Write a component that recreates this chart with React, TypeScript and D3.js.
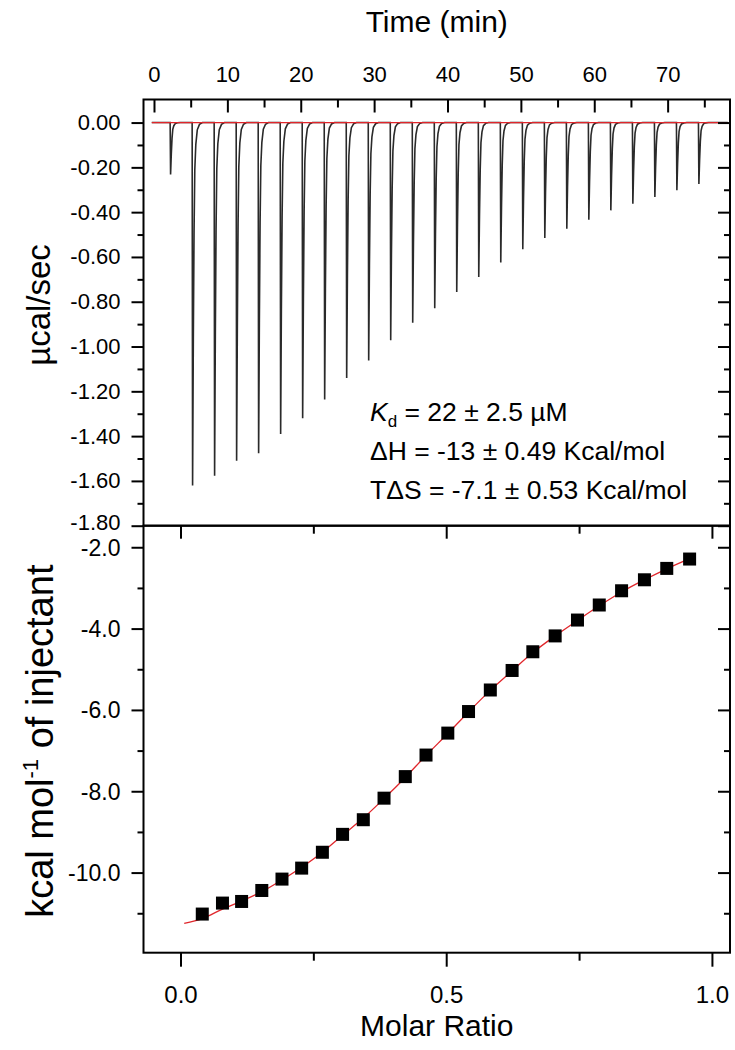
import React, { useEffect, useRef } from 'react';
import * as d3 from 'd3';

// raw thermogram: injection times (min) and peak minima (µcal/sec)
const injTimes = [2.2, 5.2, 8.2, 11.2, 14.2, 17.2, 20.2, 23.2, 26.2, 29.2, 32.2, 35.2, 38.2,
  41.2, 44.2, 47.2, 50.2, 53.2, 56.2, 59.2, 62.2, 65.2, 68.2, 71.2, 74.2];
const peakDepths = [-0.232, -1.62, -1.577, -1.51, -1.477, -1.39, -1.32, -1.236, -1.14, -1.062,
  -0.972, -0.894, -0.829, -0.757, -0.69, -0.625, -0.566, -0.515, -0.474, -0.434, -0.392,
  -0.362, -0.332, -0.302, -0.274];
// shape of one injection peak: [minutes after injection, fraction of depth]
const peakShape = [[0, 0], [0.06, 1], [0.16, 0.6], [0.26, 0.3], [0.36, 0.13], [0.5, 0.06],
  [0.7, 0.02], [1.0, 0.005], [1.4, 0]];

// integrated heats
const molarRatio = [0.041, 0.079, 0.115, 0.153, 0.191, 0.228, 0.267, 0.305, 0.344, 0.383, 0.423,
  0.462, 0.503, 0.542, 0.583, 0.624, 0.663, 0.705, 0.747, 0.788, 0.830, 0.873, 0.915, 0.958];
const heats = [-11.02, -10.75, -10.71, -10.44, -10.16, -9.89, -9.50, -9.06, -8.70, -8.17, -7.64,
  -7.11, -6.57, -6.04, -5.51, -5.03, -4.57, -4.18, -3.79, -3.42, -3.07, -2.80, -2.52, -2.29];

// fitted curve
const fitX = [0.007, 0.041, 0.079, 0.115, 0.153, 0.191, 0.228, 0.267, 0.305, 0.344, 0.383, 0.423,
  0.462, 0.503, 0.542, 0.583, 0.624, 0.663, 0.705, 0.747, 0.788, 0.830, 0.873, 0.915, 0.958];
const fitY = [-11.25, -11.13, -10.90, -10.70, -10.47, -10.18, -9.87, -9.50, -9.08, -8.66, -8.18,
  -7.66, -7.12, -6.58, -6.05, -5.52, -5.04, -4.59, -4.18, -3.80, -3.44, -3.10, -2.80, -2.53, -2.28];

const timeMajor = [0, 10, 20, 30, 40, 50, 60, 70];
const timeMinor = [5, 15, 25, 35, 45, 55, 65, 75];
const powerMajor = [0, -0.2, -0.4, -0.6, -0.8, -1.0, -1.2, -1.4, -1.6, -1.8];
const powerMinor = [-0.1, -0.3, -0.5, -0.7, -0.9, -1.1, -1.3, -1.5, -1.7];
const heatMajor = [-2, -4, -6, -8, -10];
const heatMinor = [-3, -5, -7, -9, -11];
const ratioMajor = [0, 0.5, 1.0];
const ratioMinor = [0.25, 0.75];

const W = 735;
const H = 1050;
const FONT = '"Liberation Sans", Arial, sans-serif';

const App: React.FC = () => {
  const svgRef = useRef<SVGSVGElement | null>(null);

  useEffect(() => {
    if (!svgRef.current) return;
    const svg = d3.select(svgRef.current);
    svg.selectAll('*').remove();

    const L = 143.5, R = 730, T1 = 99.5, B1 = 525.7, B2 = 952.7;

    const xTime = d3.scaleLinear().domain([-1.43, 78.5]).range([L, R]);
    const yPow = d3.scaleLinear().domain([-1.8, 0.103]).range([B1, T1]);
    const xRatio = d3.scaleLinear().domain([-0.0696, 1.034]).range([L, R]);
    const yHeat = d3.scaleLinear().domain([-11.97, -1.47]).range([B2, B1]);

    const fmt = (p: string) => (d: any) => d3.format(p)(d).replace('\u2212', '-');

    const styleAxis = (g: any, size: number) => {
      g.select('.domain').remove();
      g.selectAll('line').attr('stroke', '#000').attr('stroke-width', 2);
      g.selectAll('text').attr('fill', '#000').style('font-family', FONT).style('font-size', size + 'px');
    };

    const addAxis = (axis: any, tx: number, ty: number, size = 22) => {
      const g = svg.append('g').attr('transform', `translate(${tx},${ty})`).call(axis);
      styleAxis(g, size);
      return g;
    };

    // ---- top panel: thermogram ----
    svg.append('clipPath').attr('id', 'clipTop')
      .append('rect').attr('x', L).attr('y', T1).attr('width', R - L).attr('height', B1 - T1);

    const trace: [number, number][] = [[-0.3, 0]];
    injTimes.forEach((t0, i) => {
      trace.push([t0 - 0.02, 0]);
      peakShape.forEach(([dt, f]) => trace.push([t0 + dt, peakDepths[i] * f]));
    });
    trace.push([78.2, 0]);

    svg.append('path')
      .attr('clip-path', 'url(#clipTop)')
      .attr('d', d3.line<[number, number]>().x(d => xTime(d[0])).y(d => yPow(d[1]))(trace))
      .attr('fill', 'none').attr('stroke', '#2a2a2a').attr('stroke-width', 1.6);

    svg.append('line')
      .attr('x1', xTime(-0.3)).attr('x2', xTime(78.2))
      .attr('y1', yPow(0)).attr('y2', yPow(0))
      .attr('stroke', '#e0262b').attr('stroke-width', 1.3);

    addAxis(d3.axisTop(xTime).tickValues(timeMajor).tickSize(-13).tickPadding(18).tickFormat(d => String(d)), 0, T1, 22);
    addAxis(d3.axisTop(xTime).tickValues(timeMinor).tickSize(-8).tickFormat(() => ''), 0, T1);
    const pl = addAxis(d3.axisLeft(yPow).tickValues(powerMajor).tickSize(12).tickPadding(11).tickFormat(fmt('.2f')), L, 0, 22);
    // last label sits a little high, as in the original, so it clears the -2.0 below it
    pl.selectAll('text').filter((d: any) => d === -1.8).attr('dy', '0.18em');
    addAxis(d3.axisLeft(yPow).tickValues(powerMinor).tickSize(6).tickFormat(() => ''), L, 0);
    addAxis(d3.axisRight(yPow).tickValues(powerMajor).tickSize(-12).tickFormat(() => ''), R, 0);
    addAxis(d3.axisRight(yPow).tickValues(powerMinor).tickSize(-6).tickFormat(() => ''), R, 0);

    // ---- bottom panel: isotherm ----
    svg.append('path')
      .attr('d', d3.line<number>().x((d, i) => xRatio(fitX[i])).y(d => yHeat(d)).curve(d3.curveMonotoneX)(fitY))
      .attr('fill', 'none').attr('stroke', '#e0262b').attr('stroke-width', 1.3);

    const sq = 13;
    svg.append('g').selectAll('rect').data(heats).enter().append('rect')
      .attr('x', (d, i) => xRatio(molarRatio[i]) - sq / 2)
      .attr('y', d => yHeat(d) - sq / 2)
      .attr('width', sq).attr('height', sq)
      .attr('fill', '#000');

    addAxis(d3.axisTop(xRatio).tickValues(ratioMajor).tickSize(-13).tickFormat(() => ''), 0, B1);
    addAxis(d3.axisTop(xRatio).tickValues(ratioMinor).tickSize(-8).tickFormat(() => ''), 0, B1);
    addAxis(d3.axisBottom(xRatio).tickValues(ratioMajor).tickSize(14).tickPadding(19).tickFormat(fmt('.1f')), 0, B2, 24);
    addAxis(d3.axisBottom(xRatio).tickValues(ratioMinor).tickSize(8).tickFormat(() => ''), 0, B2);
    const hl = addAxis(d3.axisLeft(yHeat).tickValues(heatMajor).tickSize(12).tickPadding(11).tickFormat(fmt('.1f')), L, 0, 23);
    hl.selectAll('text').attr('dy', '0.34em');
    addAxis(d3.axisLeft(yHeat).tickValues(heatMinor).tickSize(6).tickFormat(() => ''), L, 0);
    addAxis(d3.axisRight(yHeat).tickValues(heatMajor).tickSize(-12).tickFormat(() => ''), R, 0);
    addAxis(d3.axisRight(yHeat).tickValues(heatMinor).tickSize(-6).tickFormat(() => ''), R, 0);

    // frames
    [[T1, B1], [B1, B2]].forEach(([a, b]) => {
      svg.append('rect').attr('x', L).attr('y', a).attr('width', R - L).attr('height', b - a)
        .attr('fill', 'none').attr('stroke', '#000').attr('stroke-width', 2);
    });

    // titles
    const title = (txt: string, x: number, y: number, size: number, rot = false) =>
      svg.append('text').attr('text-anchor', 'middle')
        .attr('transform', rot ? `translate(${x},${y}) rotate(-90)` : `translate(${x},${y})`)
        .style('font-family', FONT).style('font-size', size + 'px').attr('fill', '#000').text(txt);

    title('Time (min)', (L + R) / 2, 32, 30);
    title('Molar Ratio', (L + R) / 2, 1036, 30);
    title('µcal/sec', 50, 305, 33, true);

    const k = svg.append('text').attr('text-anchor', 'middle')
      .attr('transform', `translate(53,${(B1 + B2) / 2 + 2}) rotate(-90)`)
      .style('font-family', FONT).style('font-size', '38px').attr('fill', '#000');
    k.append('tspan').text('kcal mol');
    k.append('tspan').attr('dy', -15).style('font-size', '22px').text('-1');
    k.append('tspan').attr('dy', 15).text(' of injectant');

    // fit results
    const ann = svg.append('g').style('font-family', FONT).style('font-size', '26.5px').attr('fill', '#000');
    const kd = ann.append('text').attr('x', 370).attr('y', 421);
    kd.append('tspan').style('font-style', 'italic').text('K');
    kd.append('tspan').attr('dy', 6).style('font-size', '17px').text('d');
    kd.append('tspan').attr('dy', -6).text(' = 22 ± 2.5 µM');
    ann.append('text').attr('x', 370).attr('y', 460).text('ΔH = -13 ± 0.49 Kcal/mol');
    ann.append('text').attr('x', 370).attr('y', 499).text('TΔS = -7.1 ± 0.53 Kcal/mol');
  }, []);

  return (
    <svg ref={svgRef} width={W} height={H}
      style={{ position: 'absolute', left: 0, top: 0, background: '#fff' }} />
  );
};

export default App;
